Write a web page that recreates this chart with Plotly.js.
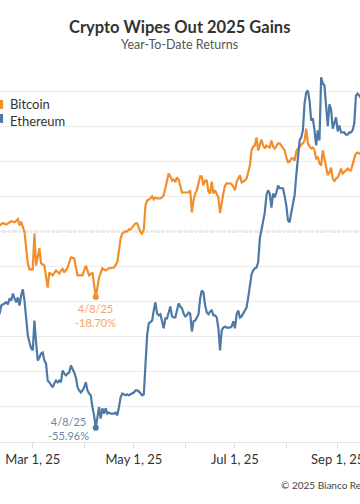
<!DOCTYPE html>
<html><head><meta charset="utf-8">
<script src="https://cdn.plot.ly/plotly-3.0.1.min.js"></script>
<style>
html,body{margin:0;padding:0;width:360px;height:504px;overflow:hidden;background:#fff;}
#wrap{position:absolute;left:-120px;top:0;width:600px;height:504px;}
</style></head><body><div id="wrap"></div>
<script>
const seriesNames=['Bitcoin','Ethereum'];
const btcDates=['2025-02-06','2025-02-09','2025-02-11','2025-02-13','2025-02-16','2025-02-18','2025-02-20','2025-02-21','2025-02-22','2025-02-24','2025-02-26','2025-02-27','2025-03-01','2025-03-02','2025-03-03','2025-03-05','2025-03-06','2025-03-08','2025-03-10','2025-03-11','2025-03-13','2025-03-15','2025-03-17','2025-03-19','2025-03-20','2025-03-22','2025-03-24','2025-03-26','2025-03-28','2025-03-31','2025-04-02','2025-04-04','2025-04-06','2025-04-07','2025-04-08','2025-04-09','2025-04-10','2025-04-12','2025-04-14','2025-04-16','2025-04-19','2025-04-21','2025-04-22','2025-04-23','2025-04-24','2025-04-25','2025-04-26','2025-04-27','2025-04-28','2025-04-29','2025-04-30','2025-05-01','2025-05-02','2025-05-03','2025-05-04','2025-05-05','2025-05-06','2025-05-07','2025-05-08','2025-05-09','2025-05-10','2025-05-11','2025-05-12','2025-05-13','2025-05-14','2025-05-15','2025-05-16','2025-05-17','2025-05-18','2025-05-19','2025-05-20','2025-05-21','2025-05-22','2025-05-23','2025-05-24','2025-05-25','2025-05-26','2025-05-27','2025-05-28','2025-05-29','2025-05-30','2025-05-31','2025-06-01','2025-06-02','2025-06-03','2025-06-04','2025-06-05','2025-06-06','2025-06-07','2025-06-08','2025-06-09','2025-06-10','2025-06-11','2025-06-12','2025-06-13','2025-06-14','2025-06-15','2025-06-16','2025-06-17','2025-06-18','2025-06-19','2025-06-20','2025-06-21','2025-06-22','2025-06-23','2025-06-24','2025-06-25','2025-06-26','2025-06-27','2025-06-28','2025-06-29','2025-06-30','2025-07-01','2025-07-02','2025-07-03','2025-07-04','2025-07-05','2025-07-06','2025-07-07','2025-07-08','2025-07-09','2025-07-10','2025-07-11','2025-07-12','2025-07-13','2025-07-14','2025-07-15','2025-07-16','2025-07-17','2025-07-18','2025-07-19','2025-07-20','2025-07-21','2025-07-22','2025-07-23','2025-07-24','2025-07-25','2025-07-26','2025-07-27','2025-07-28','2025-07-29','2025-07-30','2025-07-31','2025-08-01','2025-08-02','2025-08-03','2025-08-04','2025-08-05','2025-08-06','2025-08-07','2025-08-08','2025-08-09','2025-08-10','2025-08-11','2025-08-12','2025-08-13','2025-08-14','2025-08-15','2025-08-16','2025-08-17','2025-08-18','2025-08-19','2025-08-20','2025-08-21','2025-08-22','2025-08-23','2025-08-24','2025-08-25','2025-08-26','2025-08-27','2025-08-28','2025-08-29','2025-08-30','2025-08-31','2025-09-01','2025-09-02','2025-09-03','2025-09-04','2025-09-05','2025-09-06','2025-09-07','2025-09-08','2025-09-09','2025-09-10','2025-09-11','2025-09-12','2025-09-13','2025-09-14','2025-09-15','2025-09-16'];
const btcValues=[2.0,1.7,2.4,2.0,2.9,2.6,3.5,1.7,2.8,-0.2,-9.1,-10.8,-10.8,-0.6,-9.7,-4.8,-9.1,-9.7,-16.0,-11.7,-12.5,-11.1,-12.0,-10.5,-11.7,-10.3,-7.4,-7.7,-12.5,-12.5,-9.7,-12.5,-11.7,-16.2,-18.70,-16.0,-13.1,-10.5,-11.1,-10.5,-10.3,-8.8,-5.4,-2.0,-0.6,-0.3,0.0,0.0,0.6,0.6,1.1,1.7,2.3,2.3,0.9,-0.3,-0.6,0.6,7.4,8.8,9.1,9.4,10.0,9.1,9.7,9.4,9.4,9.4,9.7,10.3,12.3,14.0,16.5,15.7,14.5,14.8,14.0,15.4,14.8,13.1,11.1,11.1,11.1,11.1,11.1,11.7,5.4,8.8,10.8,11.7,13.4,15.7,15.7,13.1,14.5,14.5,11.4,10.8,14.2,10.8,11.7,10.8,9.7,5.2,8.8,10.8,13.1,13.7,13.7,13.7,13.4,12.8,11.7,14.0,15.1,16.0,14.0,14.2,14.5,15.1,17.4,18.8,23.1,24.2,24.5,26.8,23.1,24.5,26.2,24.5,23.6,24.5,24.2,23.9,25.9,24.2,23.6,24.5,25.1,25.1,24.5,23.9,23.1,21.1,19.7,19.9,20.8,20.8,20.2,22.8,23.6,23.9,24.8,25.1,25.9,29.3,25.1,24.2,23.6,23.9,23.1,20.8,21.1,19.4,18.8,23.1,20.8,17.9,16.0,16.8,18.2,15.1,14.2,15.1,15.4,16.5,17.9,16.5,17.1,17.4,17.9,17.4,17.4,19.4,20.8,22.2,22.5,22.2,22.0,22.5];
const ethDates=['2025-02-06','2025-02-09','2025-02-10','2025-02-11','2025-02-13','2025-02-14','2025-02-15','2025-02-16','2025-02-17','2025-02-18','2025-02-19','2025-02-20','2025-02-21','2025-02-22','2025-02-23','2025-02-24','2025-02-25','2025-02-26','2025-02-27','2025-02-28','2025-03-01','2025-03-02','2025-03-03','2025-03-04','2025-03-05','2025-03-06','2025-03-07','2025-03-08','2025-03-09','2025-03-10','2025-03-11','2025-03-13','2025-03-14','2025-03-15','2025-03-16','2025-03-17','2025-03-18','2025-03-19','2025-03-20','2025-03-21','2025-03-22','2025-03-23','2025-03-24','2025-03-25','2025-03-26','2025-03-27','2025-03-28','2025-03-29','2025-03-30','2025-03-31','2025-04-01','2025-04-02','2025-04-03','2025-04-04','2025-04-05','2025-04-06','2025-04-07','2025-04-08','2025-04-09','2025-04-10','2025-04-11','2025-04-12','2025-04-13','2025-04-14','2025-04-15','2025-04-16','2025-04-17','2025-04-19','2025-04-20','2025-04-21','2025-04-22','2025-04-23','2025-04-24','2025-04-25','2025-04-26','2025-04-27','2025-04-28','2025-04-29','2025-04-30','2025-05-01','2025-05-02','2025-05-03','2025-05-04','2025-05-05','2025-05-06','2025-05-07','2025-05-08','2025-05-09','2025-05-10','2025-05-11','2025-05-12','2025-05-13','2025-05-14','2025-05-15','2025-05-16','2025-05-17','2025-05-18','2025-05-19','2025-05-20','2025-05-21','2025-05-22','2025-05-23','2025-05-24','2025-05-25','2025-05-26','2025-05-27','2025-05-28','2025-05-29','2025-05-30','2025-05-31','2025-06-01','2025-06-02','2025-06-03','2025-06-04','2025-06-05','2025-06-06','2025-06-07','2025-06-08','2025-06-09','2025-06-10','2025-06-11','2025-06-12','2025-06-13','2025-06-14','2025-06-15','2025-06-16','2025-06-17','2025-06-18','2025-06-19','2025-06-20','2025-06-21','2025-06-22','2025-06-23','2025-06-24','2025-06-25','2025-06-26','2025-06-27','2025-06-28','2025-06-29','2025-06-30','2025-07-01','2025-07-02','2025-07-03','2025-07-04','2025-07-05','2025-07-06','2025-07-07','2025-07-08','2025-07-09','2025-07-10','2025-07-11','2025-07-12','2025-07-13','2025-07-14','2025-07-15','2025-07-16','2025-07-17','2025-07-18','2025-07-19','2025-07-20','2025-07-21','2025-07-22','2025-07-23','2025-07-24','2025-07-25','2025-07-26','2025-07-27','2025-07-28','2025-07-29','2025-07-30','2025-07-31','2025-08-01','2025-08-02','2025-08-03','2025-08-04','2025-08-05','2025-08-06','2025-08-07','2025-08-08','2025-08-09','2025-08-10','2025-08-11','2025-08-12','2025-08-13','2025-08-14','2025-08-15','2025-08-16','2025-08-17','2025-08-18','2025-08-19','2025-08-20','2025-08-21','2025-08-22','2025-08-23','2025-08-24','2025-08-25','2025-08-26','2025-08-27','2025-08-28','2025-08-29','2025-08-30','2025-08-31','2025-09-01','2025-09-02','2025-09-03','2025-09-04','2025-09-05','2025-09-06','2025-09-07','2025-09-08','2025-09-09','2025-09-10','2025-09-11','2025-09-12','2025-09-13','2025-09-14','2025-09-15','2025-09-16'];
const ethValues=[-23.9,-23.4,-21.1,-20.8,-20.2,-20.8,-19.1,-19.7,-17.7,-19.1,-20.2,-18.8,-21.1,-18.2,-16.5,-19.7,-24.5,-29.6,-31.6,-33.3,-33.9,-25.4,-31.6,-36.8,-35.9,-34.8,-34.5,-36.8,-37.6,-42.5,-43.0,-44.4,-43.3,-42.5,-43.0,-42.5,-43.0,-39.6,-40.5,-41.0,-40.5,-40.2,-38.2,-39.0,-40.2,-41.6,-44.4,-45.3,-45.9,-45.3,-44.4,-43.0,-45.3,-46.2,-46.7,-50.1,-52.4,-55.96,-52.4,-50.1,-53.3,-50.4,-51.9,-50.4,-51.9,-51.6,-51.9,-51.9,-51.6,-52.4,-50.1,-47.3,-46.2,-46.4,-46.7,-46.4,-46.7,-46.4,-46.2,-45.9,-45.3,-45.3,-45.6,-46.2,-46.7,-46.4,-38.2,-29.6,-26.2,-25.9,-25.4,-22.5,-20.2,-23.4,-23.9,-23.6,-25.9,-27.6,-24.8,-24.8,-23.1,-21.4,-24.2,-24.5,-24.5,-22.8,-20.5,-21.4,-21.9,-23.4,-24.2,-23.9,-23.1,-23.4,-28.5,-25.6,-25.4,-24.5,-23.6,-19.1,-16.8,-17.4,-21.1,-23.1,-23.6,-22.8,-22.5,-23.9,-23.9,-24.5,-27.6,-33.9,-28.2,-27.4,-27.1,-27.4,-27.4,-27.4,-27.1,-25.6,-27.6,-23.6,-22.5,-24.5,-24.2,-23.4,-22.5,-21.7,-18.8,-16.0,-12.3,-11.1,-10.5,-10.3,-8.8,-2.0,0.9,3.1,5.4,10.3,11.7,10.8,6.8,10.8,9.7,11.1,13.1,12.3,12.3,12.3,10.0,7.4,3.1,2.6,5.4,8.0,10.3,16.0,21.7,25.9,26.8,28.8,36.5,39.6,40.2,37.3,31.6,32.2,28.8,24.5,28.8,25.9,43.9,42.2,41.6,35.0,30.0,36.2,34.8,29.3,31.1,32.5,28.5,30.2,28.2,28.2,28.2,27.6,27.6,28.2,28.2,28.8,30.8,38.7,39.3,38.7,38.0];
const lowDate='2025-04-08';
const lowLabel='4/8/25';
const btcLow=-18.70, ethLow=-55.96;
const titleText='Crypto Wipes Out 2025 Gains';
const subtitleText='Year-To-Date Returns';
const sourceText='© 2025 Bianco Research';
const xTickVals=['2025-03-01','2025-05-01','2025-07-01','2025-09-01'];
const xRange=['2025-01-01','2025-11-15'];
const yRange=[-60,46];

const BTC='#F28E2B', ETH='#4E79A7';
const W=600,H=504,OFF=120;
const M={l:55.2,r:17.6,t:69.5,b:62};
const pw=W-M.l-M.r, ph=H-M.t-M.b;
const px=x=>(x+OFF-M.l)/pw;
const py=y=>(H-M.b-y)/ph;
const F='Lato, "Open Sans", sans-serif';

const traces=[
 {x:btcDates,y:btcValues,type:'scatter',mode:'lines',name:seriesNames[0],line:{color:BTC,width:2.2},hoverinfo:'skip'},
 {x:ethDates,y:ethValues,type:'scatter',mode:'lines',name:seriesNames[1],line:{color:ETH,width:2.2},hoverinfo:'skip'},
 {x:[lowDate],y:[btcLow],type:'scatter',mode:'markers',marker:{color:BTC,size:6},hoverinfo:'skip'},
 {x:[lowDate],y:[ethLow],type:'scatter',mode:'markers',marker:{color:ETH,size:6},hoverinfo:'skip'}
];

const layout={
 width:W,height:H,margin:M,showlegend:false,
 paper_bgcolor:'#fff',plot_bgcolor:'#fff',
 font:{family:F,color:'#333'},
 xaxis:{type:'date',range:xRange,tickmode:'array',tickvals:xTickVals,tickformat:'%b %-d, %y',
   ticks:'outside',ticklen:5,tickcolor:'#dcdcdc',showline:true,linecolor:'#e3e3e3',showgrid:false,zeroline:false,
   tickfont:{family:F,size:13,color:'#333'},
   minor:{tick0:'2025-01-01',dtick:'M1',ticks:'outside',ticklen:5,tickcolor:'#dcdcdc',showgrid:false}},
 yaxis:{range:yRange,tick0:0,dtick:10,showgrid:true,gridcolor:'#ececec',gridwidth:1,zeroline:false,showticklabels:false,ticks:''},
 shapes:[
  {type:'line',xref:'paper',x0:0,x1:1,yref:'y',y0:0,y1:0,layer:'below',line:{color:'#a0a0a0',width:1.5,dash:'5px,2px,2px,2px'}},
  {type:'rect',xref:'paper',yref:'paper',x0:px(-6),x1:px(3.3),y0:py(108.5),y1:py(99.5),fillcolor:BTC,line:{width:0}},
  {type:'rect',xref:'paper',yref:'paper',x0:px(-6),x1:px(3.3),y0:py(122.5),y1:py(113.5),fillcolor:ETH,line:{width:0}}
 ],
 annotations:[
  {xref:'paper',yref:'paper',x:px(180),y:py(26),xanchor:'center',yanchor:'middle',showarrow:false,text:'<b>'+titleText+'</b>',font:{family:F,size:16.5,color:'#333'}},
  {xref:'paper',yref:'paper',x:px(180),y:py(44),xanchor:'center',yanchor:'middle',showarrow:false,text:subtitleText,font:{family:F,size:12.5,color:'#555'}},
  {xref:'paper',yref:'paper',x:px(8),y:py(104),xanchor:'left',yanchor:'middle',showarrow:false,text:seriesNames[0],font:{family:F,size:13,color:'#333'}},
  {xref:'paper',yref:'paper',x:px(8),y:py(121),xanchor:'left',yanchor:'middle',showarrow:false,text:seriesNames[1],font:{family:F,size:13,color:'#333'}},
  {x:lowDate,y:btcLow,xref:'x',yref:'y',showarrow:false,xanchor:'center',yanchor:'top',yshift:-3,align:'center',
   text:lowLabel+'<br>'+btcLow.toFixed(2)+'%',font:{family:F,size:11,color:'#F3A55F'}},
  {x:lowDate,y:ethLow,xref:'x',yref:'y',showarrow:false,xanchor:'right',yanchor:'middle',xshift:-5,yshift:-1,align:'center',
   text:lowLabel+'<br>'+ethLow.toFixed(2)+'%',font:{family:F,size:11,color:'#6E84A8'}},
  {xref:'paper',yref:'paper',x:px(279),y:py(485),xanchor:'left',yanchor:'middle',showarrow:false,text:sourceText,font:{family:F,size:10,color:'#444'}}
 ]
};
Plotly.newPlot('wrap',traces,layout,{displayModeBar:false,staticPlot:true});
</script></body></html>
